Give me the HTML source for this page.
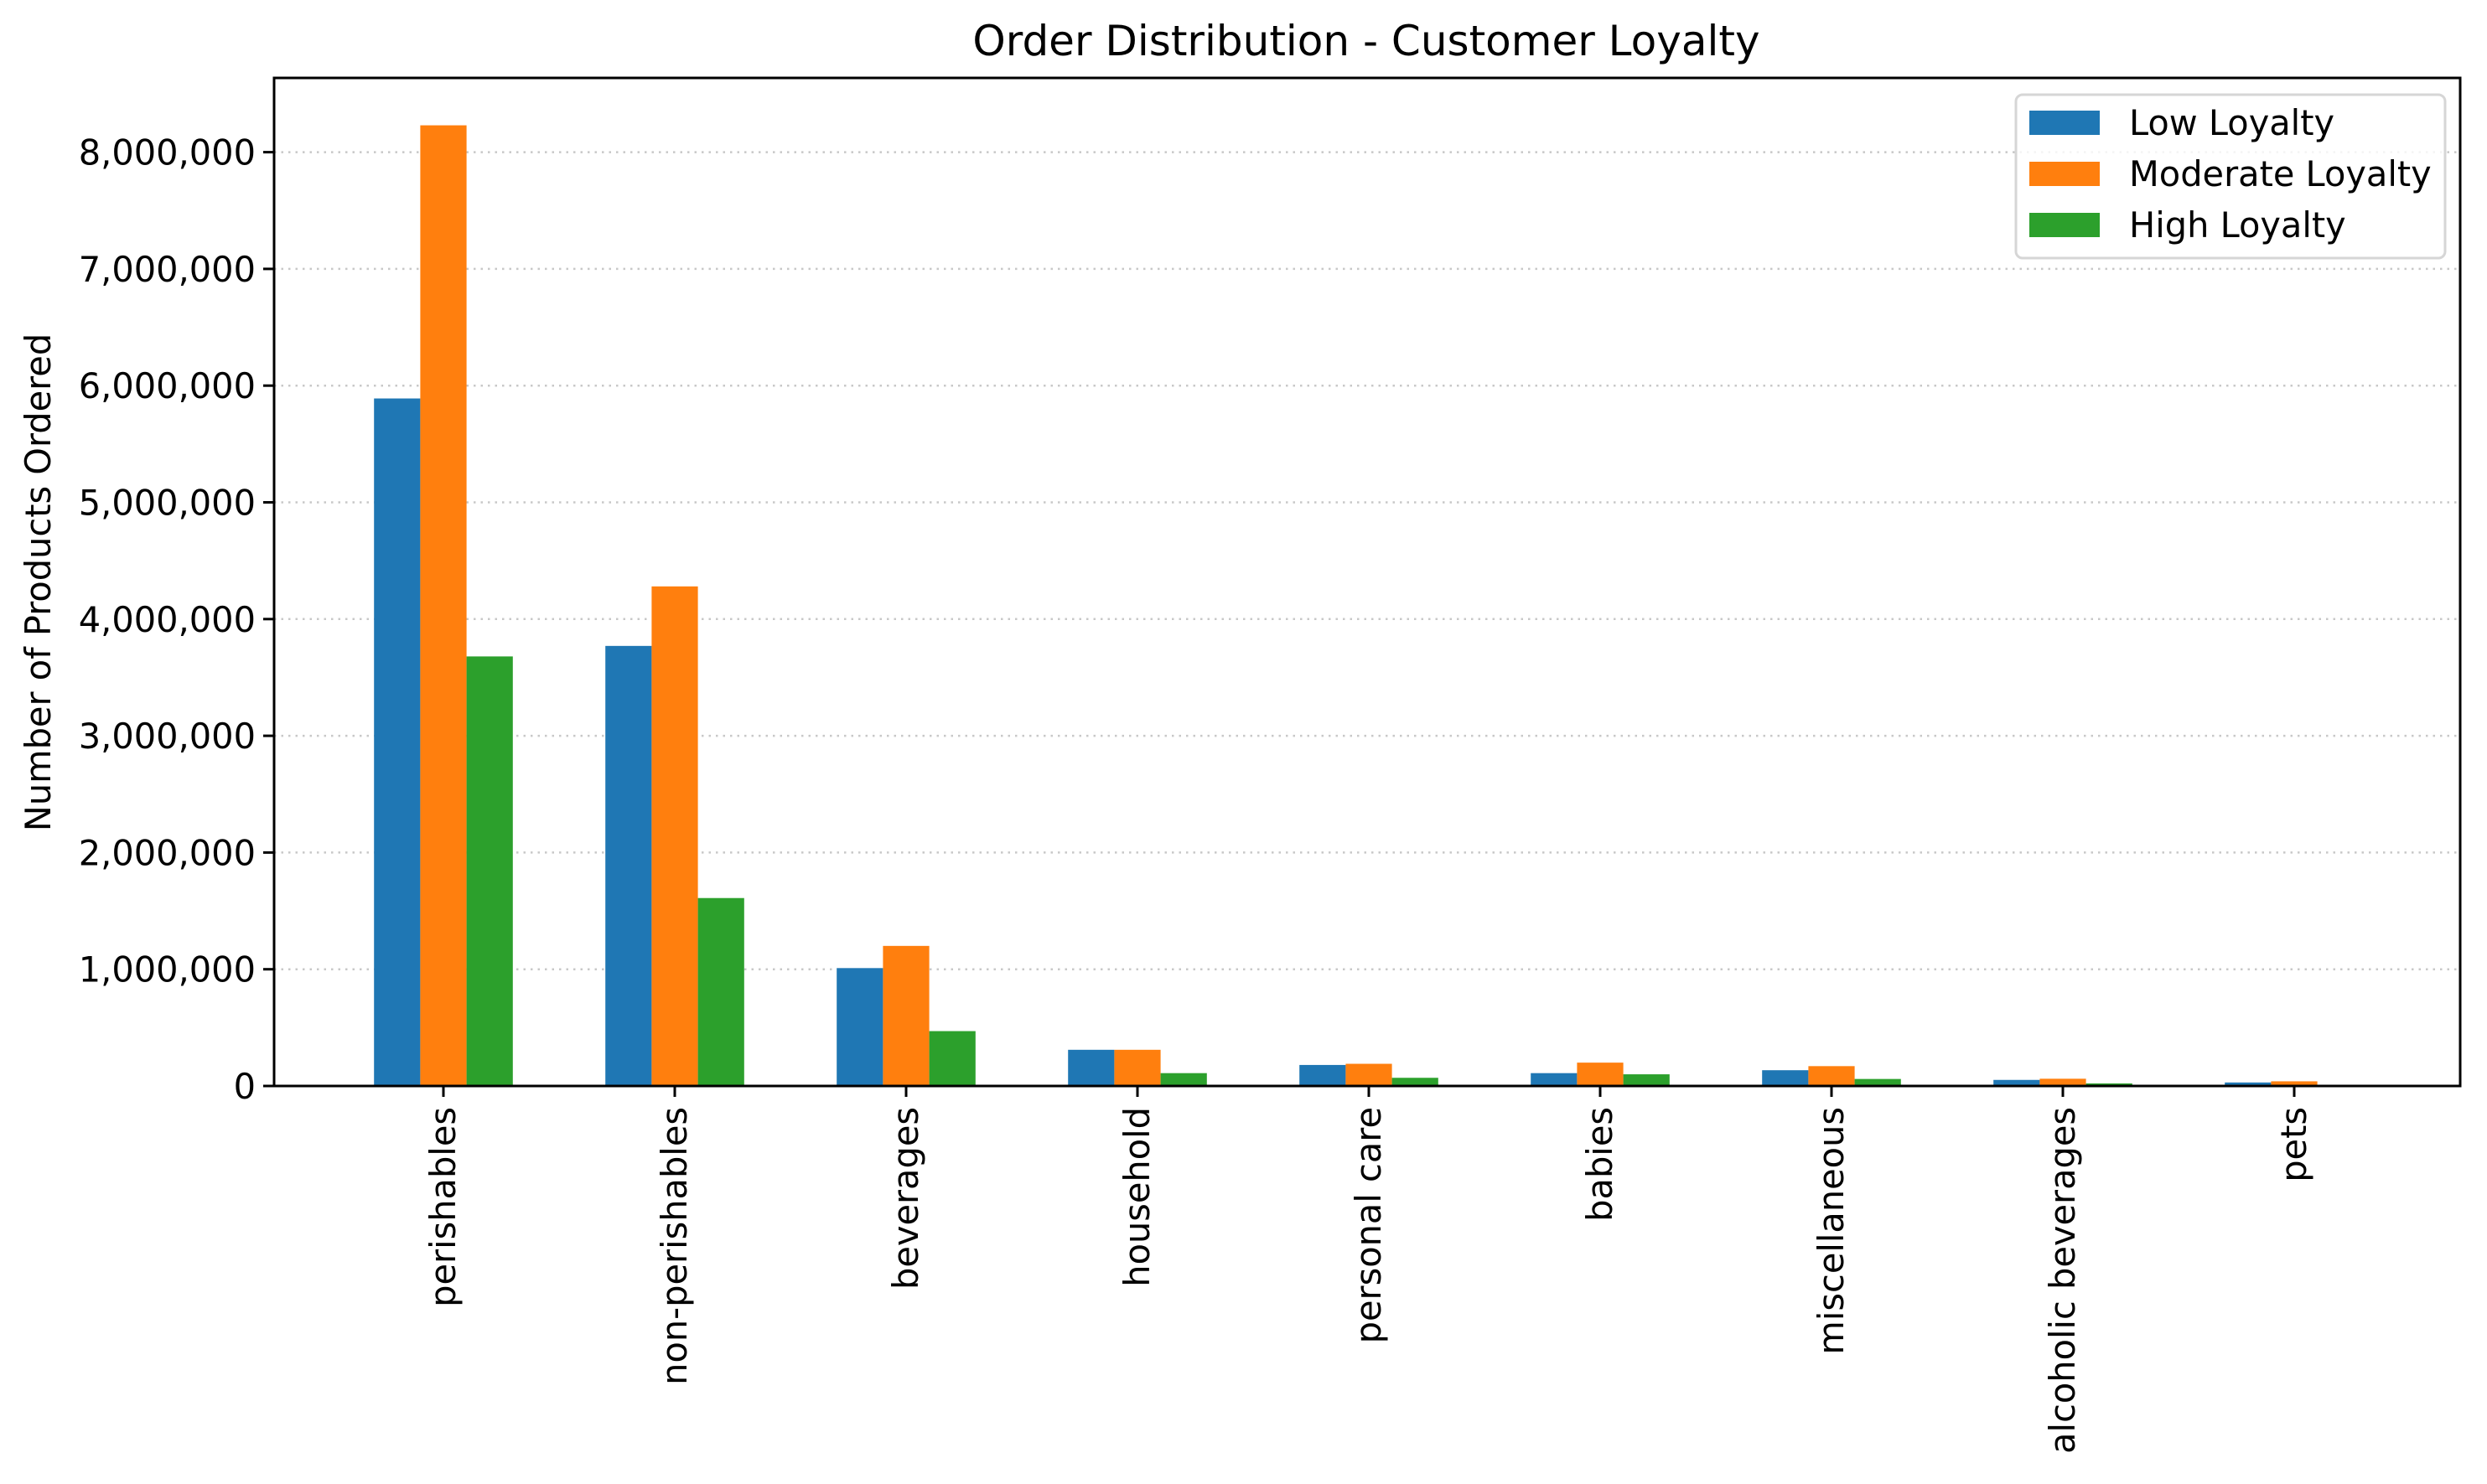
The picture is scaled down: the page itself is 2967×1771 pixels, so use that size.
<!DOCTYPE html>
<html><head><meta charset="utf-8"><style>
html,body{margin:0;padding:0;background:#fff;}
svg{display:block;font-family:"DejaVu Sans","Liberation Sans",sans-serif;}
</style></head><body>
<svg id="chart" width="2967" height="1771" viewBox="0 0 2967 1771" xmlns="http://www.w3.org/2000/svg">
<rect width="2967" height="1771" fill="#fff"/>
<text x="1630" y="66" font-size="50" text-anchor="middle">Order Distribution - Customer Loyalty</text>
<text transform="translate(60,695) rotate(-90)" font-size="41.5" text-anchor="middle">Number of Products Ordered</text>
<g id="grid"></g>
<g id="bars"></g>
<g id="axes"></g>
<g id="legend">
<rect x="2405" y="113" width="512" height="195" rx="8" fill="#fff" fill-opacity="0.8" stroke="#d6d6d6" stroke-width="3"/>
<rect x="2421" y="132" width="84" height="29" fill="#1f77b4"/>
<text x="2540" y="161" font-size="41.5">Low Loyalty</text>
<rect x="2421" y="193" width="84" height="29" fill="#ff7f0e"/>
<text x="2540" y="222" font-size="41.5">Moderate Loyalty</text>
<rect x="2421" y="254" width="84" height="29" fill="#2ca02c"/>
<text x="2540" y="283" font-size="41.5">High Loyalty</text>
</g>
</svg>
<script>
const categories = ["perishables","non-perishables","beverages","household","personal care","babies","miscellaneous","alcoholic beverages","pets"];
const lowLoyalty = [5890000,3770000,1010000,310000,180000,110000,135000,52000,30000];
const moderateLoyalty = [8230000,4280000,1200000,310000,190000,200000,170000,62000,40000];
const highLoyalty = [3680000,1610000,470000,110000,70000,100000,60000,22000,10000];
const yTicks = [0,1000000,2000000,3000000,4000000,5000000,6000000,7000000,8000000];
const yTickLabels = ["0","1,000,000","2,000,000","3,000,000","4,000,000","5,000,000","6,000,000","7,000,000","8,000,000"];

const NS = "http://www.w3.org/2000/svg";
const L = 327, R = 2935, T = 93, B = 1296;
const x0 = 529, step = 276, bw = step * 0.2;
const pxPerUnit = 139.3 / 1000000;
function xPos(i){ return x0 + step * i; }
function yPos(v){ return B - v * pxPerUnit; }
function mk(tag, attrs, parent){
  const e = document.createElementNS(NS, tag);
  for (const k in attrs) e.setAttribute(k, attrs[k]);
  parent.appendChild(e);
  return e;
}
const grid = document.getElementById('grid');
const bars = document.getElementById('bars');
const axes = document.getElementById('axes');

yTicks.forEach((v, i) => {
  const y = yPos(v);
  if (i > 0) {
    const g = mk('line', {x1:L, x2:R, y1:y, y2:y, stroke:'#b0b0b0', 'stroke-width':2.5, 'stroke-dasharray':'2.5 6', 'stroke-opacity':0.7}, grid);
    
    
  }
  const t = mk('line', {x1:L-13, x2:L, y1:y, y2:y, stroke:'#000', 'stroke-width':3}, axes);
  
  
  const lb = mk('text', {x:L-22, y:y+15, 'font-size':41.5, 'text-anchor':'end'}, axes);
  lb.textContent = yTickLabels[i];
  
  
});

const series = [lowLoyalty, moderateLoyalty, highLoyalty];
const colors = ['#1f77b4','#ff7f0e','#2ca02c'];
const snames = ['low','moderate','high'];
categories.forEach((c, i) => {
  series.forEach((s, j) => {
    const cx = xPos(i) + (j - 1) * bw;
    const b = mk('rect', {x:cx - bw/2, y:yPos(s[i]), width:bw, height:B - yPos(s[i]), fill:colors[j]}, bars);
    
    
  });
  const t = mk('line', {x1:xPos(i), x2:xPos(i), y1:B, y2:B+13, stroke:'#000', 'stroke-width':3}, axes);
  
  
  const lb = mk('text', {transform:'translate(' + (xPos(i)+14) + ',' + (B+25) + ') rotate(-90)', 'font-size':41.5, 'text-anchor':'end'}, axes);
  lb.textContent = c;
  
  
});

const frame = mk('rect', {x:L, y:T, width:R-L, height:B-T, fill:'none', stroke:'#000', 'stroke-width':3}, axes);


</script>
</body></html>
